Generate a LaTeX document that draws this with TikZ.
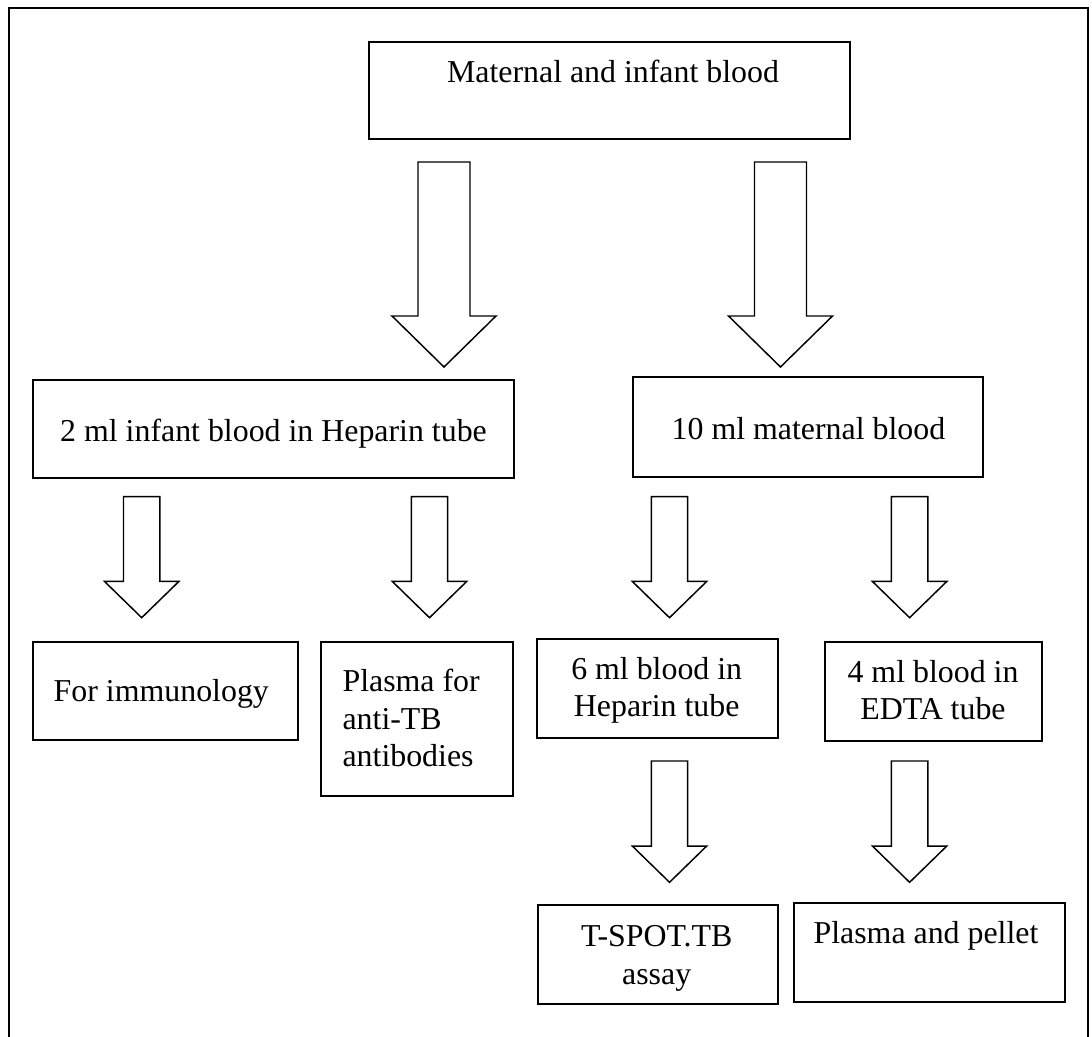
\documentclass[tikz,border=0pt]{standalone}
\usepackage{fontspec}
\setmainfont{Liberation Serif}
\usetikzlibrary{calc}
\begin{document}
\begin{tikzpicture}[x=0.75pt,y=-0.75pt,
  box/.style={draw, line width=1.5pt, rectangle, inner sep=0pt},
  txt/.style={inner sep=0pt, anchor=base, font=\fontsize{23.9}{28.05}\selectfont},
  bigarrow/.style={draw, line width=1.1pt, line join=miter,
    to path={let \p1=(\tikztostart), \p2=(\tikztotarget) in
      (\x1-19.5pt,\y1) -- (\x1+19.5pt,\y1) -- (\x1+19.5pt,\y2+38.25pt) -- (\x1+39pt,\y2+38.25pt)
      -- (\x2,\y2) -- (\x1-39pt,\y2+38.25pt) -- (\x1-19.5pt,\y2+38.25pt) -- cycle}},
  smallarrow/.style={draw, line width=1.1pt, line join=miter,
    to path={let \p1=(\tikztostart), \p2=(\tikztotarget) in
      (\x1-13.65pt,\y1) -- (\x1+13.65pt,\y1) -- (\x1+13.65pt,\y2+27.2pt) -- (\x1+27.9pt,\y2+27.2pt)
      -- (\x2,\y2) -- (\x1-27.9pt,\y2+27.2pt) -- (\x1-13.65pt,\y2+27.2pt) -- cycle}}
]
\useasboundingbox (0,0) rectangle (1092,1037);
% outer frame (open at the bottom)
\draw[line width=1.1pt] (9,1037) -- (9,8) -- (1088,8) -- (1088,1037);

% boxes
\node[box, minimum width=360.75pt, minimum height=72.75pt] (top) at (609.5,90.5) {};
\node[box, minimum width=361pt, minimum height=73.5pt] (inf) at (273.3,429) {};
\node[box, minimum width=262.65pt, minimum height=74.55pt] (mat) at (807.7,427) {};
\node[box, minimum width=199pt, minimum height=73.7pt] (imm) at (165.35,690.85) {};
\node[box, minimum width=144.45pt, minimum height=115.5pt] (pla) at (417,718.7) {};
\node[box, minimum width=181.2pt, minimum height=74.5pt] (hep) at (657.5,688.65) {};
\node[box, minimum width=163pt, minimum height=74.25pt] (edta) at (933.65,691.2) {};
\node[box, minimum width=180.3pt, minimum height=74.25pt] (tsp) at (657.8,954.5) {};
\node[box, minimum width=203.6pt, minimum height=74.25pt] (pel) at (929.75,952.5) {};

% texts
\node[txt] (topT) at (613,83) {Maternal and infant blood};
\node[txt] (infT) at (273.5,441) {2 ml infant blood in Heparin tube};
\node[txt] (matT) at (808.4,439) {10 ml maternal blood};
\node[txt] (immT) at (161.3,701.7) {For immunology};
\node[txt, anchor=base west] (plaT) at (342.3,691.7) {\begin{tabular}[t]{@{}l@{}}Plasma for\\anti-TB\\antibodies\end{tabular}};
\node[txt] (hepT) at (656.7,679.3) {\begin{tabular}[t]{@{}c@{}}6 ml blood in\\Heparin tube\end{tabular}};
\node[txt] (edtaT) at (933,682.3) {\begin{tabular}[t]{@{}c@{}}4 ml blood in\\EDTA tube\end{tabular}};
\node[txt] (tspT) at (656.7,946.7) {\begin{tabular}[t]{@{}c@{}}T-SPOT.TB\\assay\end{tabular}};
\node[txt] (pelT) at (926,943) {Plasma and pellet};

% arrow ends
\coordinate (a1s) at (444,162);   \coordinate (a1e) at (444,367);
\coordinate (a2s) at (780.5,162); \coordinate (a2e) at (780.5,367);
\coordinate (b1s) at (141.7,496.7); \coordinate (b1e) at (141.7,617.7);
\coordinate (b2s) at (429.5,496.7); \coordinate (b2e) at (429.5,617.7);
\coordinate (b3s) at (669.5,496.7); \coordinate (b3e) at (669.5,617.7);
\coordinate (b4s) at (909.6,496.7); \coordinate (b4e) at (909.6,617.7);
\coordinate (c1s) at (669.5,761);   \coordinate (c1e) at (669.5,882.3);
\coordinate (c2s) at (909.6,761);   \coordinate (c2e) at (909.6,882.3);

% block arrows
\draw[bigarrow] (a1s) to (a1e);
\draw[bigarrow] (a2s) to (a2e);
\draw[smallarrow] (b1s) to (b1e);
\draw[smallarrow] (b2s) to (b2e);
\draw[smallarrow] (b3s) to (b3e);
\draw[smallarrow] (b4s) to (b4e);
\draw[smallarrow] (c1s) to (c1e);
\draw[smallarrow] (c2s) to (c2e);
\end{tikzpicture}
\end{document}
